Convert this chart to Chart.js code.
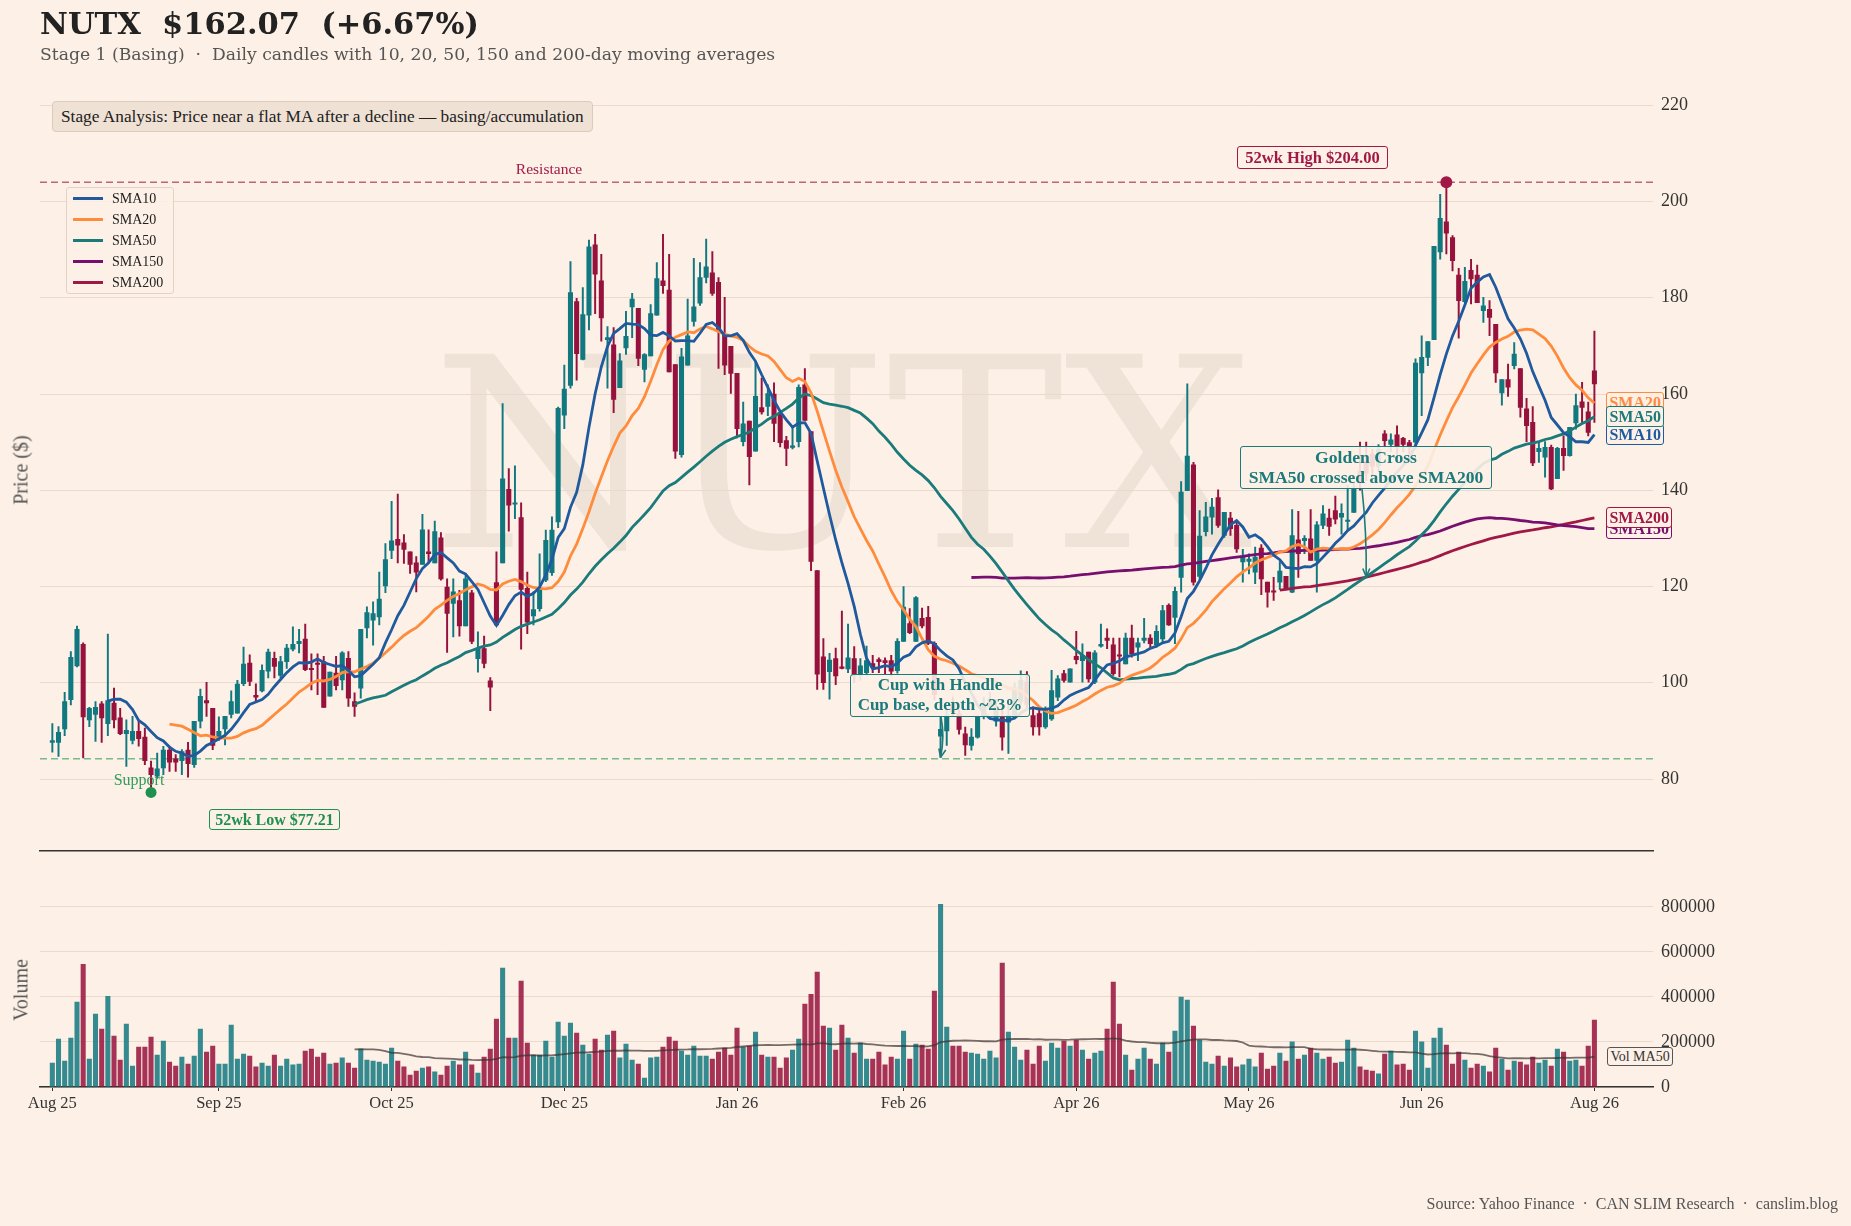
<!DOCTYPE html>
<html>
<head>
<meta charset="utf-8">
<script src="https://cdn.jsdelivr.net/npm/chart.js@4.4.1/dist/chart.umd.min.js"></script>
<style>
  body{margin:0;background:#fdf0e6;font-family:"Liberation Serif",serif;color:#222;}
  #wrap{position:relative;width:1851px;height:1226px;overflow:hidden;}
  canvas{position:absolute;left:0;z-index:1;}
  .ov{position:absolute;z-index:2;white-space:pre;}
  #title{left:40px;top:5px;font-family:"DejaVu Serif",serif;font-weight:bold;font-size:30.5px;color:#222;}
  #sub{left:40px;top:44px;font-family:"DejaVu Serif",serif;font-size:17.2px;color:#555;}
  #stage{left:52px;top:101px;height:29px;line-height:29px;padding:0 8px;font-size:17.3px;background:#efe1d4;border:1px solid #dccbbd;border-radius:4px;}
  #wm{position:absolute;z-index:0;left:842px;top:455px;transform:translate(-50%,-50%);font-family:"DejaVu Serif",serif;font-size:265px;color:#efe2d6;}
  #legend{left:66px;top:187px;width:106px;padding:0;background:rgba(253,240,230,0.85);border:1px solid #e2d2c4;border-radius:3px;font-size:14px;}
  #legend .li{height:21px;line-height:21px;display:flex;align-items:center;}
  #legend .sw{display:inline-block;width:30px;height:3px;margin:0 9px 0 6px;}
  .tag{font-weight:bold;border-radius:3px;background:rgba(253,240,230,0.9);text-align:center;}
  .endlab{position:absolute;z-index:2;font-weight:bold;font-size:16px;padding:0 2px;line-height:19px;border:1.5px solid;border-radius:3px;background:#fdf0e6;}
  .ytitle{position:absolute;z-index:2;font-size:20px;color:#555;transform:translate(-50%,-50%) rotate(-90deg);white-space:pre;}
</style>
</head>
<body>
<div id="wrap">
  <div id="wm">NUTX</div>
  <canvas id="pc" width="1851" height="870" style="top:0"></canvas>
  <canvas id="vc" width="1851" height="356" style="top:870px"></canvas>

  <div class="ov" id="title">NUTX  $162.07  (+6.67%)</div>
  <div class="ov" id="sub">Stage 1 (Basing)  ·  Daily candles with 10, 20, 50, 150 and 200-day moving averages</div>
  <div class="ov" id="stage">Stage Analysis: Price near a flat MA after a decline — basing/accumulation</div>
  <div class="ov" id="legend"></div>

  <div class="ov" style="left:549px;top:169px;transform:translate(-50%,-50%);font-size:15.5px;color:#a01946;">Resistance</div>
  <div class="ov" style="left:139px;top:780px;transform:translate(-50%,-50%);font-size:16px;color:#2e9e5b;">Support</div>

  <div class="ov tag" style="left:1237px;top:146px;width:149px;height:21px;line-height:21px;font-size:16.5px;color:#a01946;border:1.5px solid #a01946;">52wk High $204.00</div>
  <div class="ov tag" style="left:209px;top:809px;width:129px;height:19px;line-height:19px;font-size:16px;color:#1e9150;border:1.5px solid #1e9150;">52wk Low $77.21</div>
  <div class="ov tag" style="left:850px;top:674px;width:178px;height:41px;line-height:20px;font-size:17px;color:#1b7a7a;border:1.5px solid #1b7a7a;">Cup with Handle
Cup base, depth ~23%</div>
  <div class="ov tag" style="left:1240px;top:446px;width:250px;height:41px;line-height:20px;font-size:17.6px;color:#1b7a7a;border:1.5px solid #1b7a7a;">Golden Cross
SMA50 crossed above SMA200</div>

  <div class="ytitle" style="left:21px;top:470px;">Price ($)</div>
  <div class="ytitle" style="left:21px;top:990px;">Volume</div>
  <div class="ov" style="right:13px;top:1195px;font-size:16px;color:#555;">Source: Yahoo Finance  ·  CAN SLIM Research  ·  canslim.blog</div>
</div>

<script>
// daily candles
const opens = [87.6,87.6,90.4,96.5,103.5,108.0,92.3,93.4,95.6,91.5,95.8,92.7,89.4,88.0,89.9,88.7,82.3,80.6,82.3,86.0,
  84.2,83.8,86.0,83.0,92.0,96.3,94.7,88.5,90.4,93.4,93.7,99.8,104.1,97.4,98.3,102.4,105.1,101.5,104.4,107.0,
  108.1,109.1,102.9,103.9,104.4,97.2,102.0,100.6,105.1,96.1,98.9,111.4,113.0,113.7,120.1,127.5,129.8,129.1,127.2,124.9,
  124.6,127.2,124.9,130.1,119.9,116.5,117.1,111.8,118.7,105.0,107.1,100.4,120.8,124.9,140.2,137.1,134.3,119.6,113.9,115.4,
  121.3,122.9,133.4,155.6,161.8,179.2,167.2,176.4,191.0,183.5,171.3,170.2,161.3,169.6,178.1,177.8,165.1,167.9,176.4,183.5,
  181.6,166.1,147.4,166.0,175.1,178.9,184.2,185.2,183.2,172.3,169.9,164.3,150.1,154.4,148.1,157.2,157.4,160.0,155.8,150.3,
  148.9,150.1,161.9,152.2,123.3,105.4,102.3,105.0,103.1,102.9,105.0,101.5,102.1,104.0,104.8,104.6,104.6,102.5,108.6,112.3,
  108.6,113.4,113.6,108.2,88.9,90.0,95.5,93.6,89.4,87.0,88.7,93.0,95.0,92.0,92.9,91.8,93.2,96.0,100.2,93.2,
  93.6,90.8,92.5,97.0,101.9,100.1,105.5,104.6,106.4,100.1,107.6,109.3,107.9,105.8,103.9,109.3,107.4,108.8,109.3,107.8,
  109.1,116.1,113.6,121.9,139.9,145.3,122.1,131.4,134.4,138.5,130.6,134.2,132.7,125.1,125.2,123.0,128.0,120.9,119.0,120.9,
  122.1,118.8,129.7,129.5,129.9,125.4,132.7,134.2,135.8,134.4,133.5,135.4,144.0,146.0,147.5,145.0,151.7,149.5,151.5,150.8,
  149.9,150.0,164.4,167.6,171.3,189.5,195.8,192.5,184.7,179.2,185.7,184.7,177.3,177.6,174.5,160.2,163.0,165.9,165.3,156.9,
  154.1,148.0,146.9,148.9,142.4,148.7,147.2,154.0,158.4,156.3,164.8];
const highs = [91.5,90.9,98.0,106.5,111.8,108.3,94.9,96.1,96.1,110.1,98.9,94.7,92.3,93.0,92.1,90.6,83.7,85.4,86.8,86.8,
  85.1,86.1,87.6,92.0,98.7,100.1,94.7,92.9,93.0,98.3,100.5,107.4,105.8,99.8,103.7,107.0,106.4,105.5,108.0,111.6,
  111.1,112.2,106.0,106.0,105.5,102.2,105.5,106.5,106.5,97.9,111.1,115.8,116.8,123.0,128.9,137.7,139.2,130.8,127.2,126.2,
  135.0,131.8,133.6,131.2,121.6,121.6,119.2,122.3,119.2,110.6,109.7,101.1,127.2,158.0,144.5,145.1,137.4,123.0,118.9,126.8,
  131.7,134.5,157.3,166.0,187.5,179.9,182.1,192.0,193.2,189.0,174.0,173.8,168.4,177.2,180.9,177.8,168.4,178.6,187.3,193.2,
  189.0,166.1,169.5,179.7,188.2,187.3,192.2,189.6,184.2,180.1,169.9,164.3,158.3,154.4,166.7,163.3,161.9,162.3,155.8,151.2,
  153.3,161.9,165.3,152.2,123.3,109.2,106.1,107.2,114.9,112.2,107.5,105.0,107.6,105.7,105.2,105.2,105.7,109.2,120.0,115.4,
  117.9,115.5,115.9,108.5,92.8,94.3,97.0,94.3,90.8,90.5,93.2,97.0,98.0,96.5,95.3,96.0,100.0,102.5,102.3,95.0,
  94.6,95.0,102.6,101.5,102.6,102.9,110.7,108.1,106.4,106.7,112.2,111.2,109.3,109.3,110.3,112.0,109.3,113.4,110.0,111.9,
  116.1,116.4,119.9,141.8,162.1,145.8,135.8,137.5,138.3,140.1,135.4,135.4,133.7,127.7,126.8,128.2,128.7,120.9,121.9,125.2,
  122.1,136.0,135.6,130.6,136.0,133.5,136.8,136.1,138.8,137.2,141.0,141.7,150.0,150.0,148.5,149.5,152.4,151.7,153.4,151.0,
  150.4,167.3,172.1,170.9,190.7,201.5,204.0,192.9,186.1,186.3,188.0,186.8,180.1,179.4,174.5,163.0,166.2,170.7,165.3,159.1,
  157.4,150.1,150.1,149.4,148.9,151.3,153.1,160.0,162.4,158.3,173.1];
const lows = [85.6,84.7,89.0,95.4,103.3,84.4,90.9,87.8,87.6,89.0,90.6,89.2,82.6,87.3,86.8,83.0,77.21,80.2,80.9,81.6,
  81.6,80.9,80.4,82.4,90.6,93.0,86.1,88.0,87.1,92.7,93.7,99.4,99.4,96.0,98.1,101.0,101.0,101.0,103.0,106.6,
  106.2,102.5,98.5,97.5,94.9,97.2,98.5,98.5,95.1,93.0,96.8,109.3,107.8,112.0,118.7,125.8,124.9,124.8,122.7,118.9,
  124.6,125.1,124.9,121.3,106.3,109.5,109.7,111.8,108.1,102.2,103.1,94.2,112.0,124.9,131.5,134.1,107.0,110.2,112.0,114.9,
  121.0,122.3,132.2,152.8,161.2,162.9,167.1,173.3,176.7,171.0,161.2,156.1,161.3,168.2,171.7,165.9,162.5,167.9,176.4,180.9,
  164.6,146.6,146.9,166.0,174.1,178.4,183.1,180.5,165.3,164.0,160.1,150.9,149.2,141.1,148.1,155.8,155.5,150.1,149.0,145.1,
  148.6,149.0,154.5,123.3,98.6,98.6,96.6,99.6,102.9,102.1,100.0,100.5,101.5,102.1,102.1,101.8,101.4,102.0,108.6,110.2,
  108.6,111.4,107.9,96.5,84.5,87.0,93.0,89.3,84.9,86.0,88.5,92.5,94.5,91.0,86.0,85.3,92.5,95.5,94.5,89.1,
  89.1,90.5,92.2,96.3,100.1,100.1,103.9,100.1,100.1,99.8,107.4,107.1,101.5,101.2,103.9,105.3,104.6,108.3,107.4,107.4,
  108.4,111.9,108.1,118.8,139.9,120.3,121.6,130.5,130.9,132.3,130.2,130.6,127.1,120.9,122.6,120.6,118.3,115.7,117.1,119.4,
  119.4,118.7,121.9,126.8,125.4,118.8,132.0,130.6,133.0,130.9,131.6,135.4,140.0,142.0,143.0,144.0,149.0,148.0,147.5,148.0,
  147.5,148.6,155.5,165.9,171.3,188.0,189.1,185.6,171.6,179.0,178.7,179.0,174.9,172.1,162.4,157.7,159.5,165.2,155.2,150.1,
  145.1,145.8,142.7,140.1,142.4,144.1,147.1,152.7,154.1,151.3,154.1];
const closes = [88.0,89.7,96.1,105.3,111.1,92.9,94.7,94.9,92.7,96.3,92.3,89.4,90.1,89.9,88.4,83.8,80.9,82.1,86.0,83.5,
  83.5,85.7,83.2,92.0,97.2,95.8,87.0,89.9,93.0,96.1,99.7,103.9,100.3,97.0,102.6,106.4,103.4,104.4,107.2,108.0,
  108.6,102.7,102.7,103.8,94.9,102.2,99.4,106.2,96.8,95.1,111.1,114.6,114.4,117.4,125.6,129.5,128.6,127.7,124.6,123.0,
  131.8,126.8,131.4,121.6,114.4,118.9,111.8,121.6,108.6,107.1,104.0,99.1,112.0,142.4,136.9,137.3,119.4,112.6,115.2,119.6,
  129.6,131.7,157.0,161.0,181.1,168.4,176.5,190.6,184.9,175.8,171.7,158.9,166.9,172.0,179.7,167.4,168.2,176.7,184.0,182.5,
  164.6,148.1,167.7,172.1,178.1,184.2,186.4,180.9,173.0,166.0,164.3,152.8,153.8,147.0,159.5,156.3,160.1,153.9,149.9,148.7,
  149.1,161.4,154.5,125.2,101.8,100.0,104.7,101.4,103.0,105.2,101.5,103.5,104.6,103.2,104.4,104.2,102.4,108.6,115.7,110.4,
  117.7,111.8,108.2,97.5,90.3,93.2,94.0,90.3,87.1,88.7,92.9,95.5,96.5,95.0,88.7,93.2,99.0,100.5,95.5,90.8,
  90.8,94.6,98.4,100.8,100.5,102.9,104.8,105.7,100.8,106.2,108.0,108.8,101.9,105.5,109.3,106.0,108.3,109.3,108.1,110.7,
  115.0,112.0,119.0,139.6,147.1,120.9,130.5,134.5,136.5,132.7,135.4,132.0,127.8,126.3,125.7,126.1,121.6,118.8,118.8,123.2,
  119.5,130.6,126.8,130.0,125.4,132.8,135.1,132.5,134.0,135.2,133.7,140.3,141.5,143.5,145.0,148.5,150.3,150.5,149.0,149.5,
  149.0,166.4,167.6,170.9,190.7,196.5,193.4,187.7,179.4,183.4,183.9,179.0,178.3,175.9,164.4,163.0,161.4,168.3,157.2,153.4,
  145.7,148.7,148.9,140.3,148.7,147.2,153.1,157.6,157.2,152.0,162.07];
const volumes = [106000,213000,115000,217000,377000,545000,124000,324000,257000,403000,226000,120000,279000,93000,177000,177000,222000,142000,204000,111000,
  93000,133000,102000,137000,257000,155000,182000,102000,102000,275000,124000,146000,137000,89000,106000,93000,142000,93000,124000,98000,
  102000,160000,168000,133000,151000,102000,106000,129000,106000,84000,168000,120000,115000,111000,102000,173000,115000,89000,53000,71000,
  84000,89000,67000,53000,93000,115000,98000,155000,98000,62000,133000,168000,302000,528000,217000,217000,470000,195000,142000,142000,
  204000,133000,288000,226000,284000,239000,186000,146000,213000,164000,231000,248000,129000,191000,120000,102000,40000,129000,133000,177000,
  222000,204000,160000,142000,182000,137000,137000,124000,155000,173000,142000,262000,177000,182000,244000,142000,133000,133000,84000,129000,
  164000,213000,368000,412000,510000,270000,262000,164000,275000,217000,151000,195000,124000,124000,155000,98000,133000,124000,248000,124000,
  191000,186000,168000,426000,811000,266000,182000,182000,155000,151000,146000,124000,160000,129000,550000,244000,177000,120000,164000,102000,
  182000,115000,195000,173000,204000,182000,208000,164000,124000,151000,160000,257000,466000,279000,142000,75000,124000,173000,124000,102000,
  195000,155000,248000,399000,386000,270000,208000,111000,102000,137000,93000,129000,89000,98000,124000,89000,151000,80000,93000,151000,
  115000,200000,124000,142000,173000,151000,124000,133000,106000,111000,208000,173000,89000,75000,71000,58000,146000,160000,98000,102000,
  75000,248000,200000,84000,217000,262000,186000,102000,155000,120000,84000,102000,93000,67000,173000,124000,75000,115000,111000,98000,
  133000,106000,120000,93000,168000,155000,115000,120000,93000,182000,297000];

const tickIdx = [0, 27, 55, 83, 111, 138, 166, 194, 222, 250];
const tickLabels = ['Aug 25','Sep 25','Oct 25','Dec 25','Jan 26','Feb 26','Apr 26','May 26','Jun 26','Aug 26'];
const priceTicks = [80, 100, 120, 140, 160, 180, 200, 220];
const volTicks = [0, 200000, 400000, 600000, 800000];
const smaPeriods = [10, 20, 50, 150, 200];
const smaNames = ['SMA10', 'SMA20', 'SMA50', 'SMA150', 'SMA200'];
const smaColors = ['#1f5a9e', '#ff8c3c', '#1b7a7a', '#780f6e', '#a01946'];
const resistance = 204.0, support = 84.2;
const high52 = {x: 226, y: 204.00}, low52 = {x: 16, y: 77.21};
const cupIdx = 144;
const xMin = -2, xMax = 259.5;

const UP = '#127880', DN = '#96123c';
const up = closes.map((c, i) => c >= opens[i]);
const idx = closes.map((_, i) => i);

function sma(a, n) {
  const out = []; let s = 0;
  for (let i = 0; i < a.length; i++) {
    s += a[i]; if (i >= n) s -= a[i - n];
    if (i >= n - 1) out.push({x: i, y: s / n});
  }
  return out;
}
const smas = smaPeriods.map(n => sma(closes, n));
const volMA = sma(volumes, 50);

// golden cross: first day SMA50 > SMA200
const s50 = {};
smas[2].forEach(p => s50[p.x] = p.y);
let gcIdx = smas[4][0].x;
for (const p of smas[4]) { if (s50[p.x] > p.y) { gcIdx = p.x; break; } }

const font = "'Liberation Serif', serif";

function arrow(ctx, x1, y1, x2, y2, col) {
  const cx = x1 + (x2 - x1) * 0.2 + 4, cy = (y1 + y2) / 2;
  ctx.save();
  ctx.strokeStyle = col; ctx.lineWidth = 1.6;
  ctx.beginPath(); ctx.moveTo(x1, y1);
  ctx.quadraticCurveTo(cx, cy, x2, y2); ctx.stroke();
  const a = Math.atan2(y2 - cy, x2 - cx);
  ctx.beginPath(); ctx.moveTo(x2, y2);
  ctx.lineTo(x2 - 9 * Math.cos(a - 0.4), y2 - 9 * Math.sin(a - 0.4));
  ctx.moveTo(x2, y2);
  ctx.lineTo(x2 - 9 * Math.cos(a + 0.4), y2 - 9 * Math.sin(a + 0.4));
  ctx.stroke();
  ctx.restore();
}

const arrowPlugin = {
  id: 'arrows',
  afterDatasetsDraw(ch) {
    const {ctx, scales: {x, y}} = ch;
    arrow(ctx, 941, 717, x.getPixelForValue(cupIdx), y.getPixelForValue(lows[cupIdx]), '#1b7a7a');
    arrow(ctx, 1362, 489, x.getPixelForValue(gcIdx), y.getPixelForValue(s50[gcIdx]), '#1b7a7a');
  }
};

const lineDs = (data, color, width, order, extra) => Object.assign({
  type: 'line', data, borderColor: color, borderWidth: width, pointRadius: 0, fill: false, order, tension: 0
}, extra || {});

const priceDatasets = [
  {type: 'bar', data: idx.map(i => ({x: i, y: [lows[i], highs[i]]})),
   backgroundColor: up.map(u => u ? UP : DN), barThickness: 1.3, grouped: false, order: 11},
  {type: 'bar', data: idx.map(i => ({x: i, y: [opens[i], closes[i]]})),
   backgroundColor: up.map(u => u ? UP : DN), barThickness: 4.4, minBarLength: 1.5, grouped: false, order: 10},
  lineDs([{x: xMin, y: resistance}, {x: xMax, y: resistance}], 'rgba(160,25,70,0.65)', 1.4, 20, {borderDash: [7, 4]}),
  lineDs([{x: xMin, y: support}, {x: xMax, y: support}], 'rgba(46,158,91,0.65)', 1.4, 20, {borderDash: [7, 4]}),
];
[4, 3, 2, 1, 0].forEach((k, j) => priceDatasets.push(lineDs(smas[k], smaColors[k], 2.8, 5 - j + 1)));
priceDatasets.push(lineDs([high52], '#a01946', 0, 0, {showLine: false, pointRadius: 6, pointBackgroundColor: '#a01946', pointBorderWidth: 0}));
priceDatasets.push(lineDs([low52], '#1e9150', 0, 0, {showLine: false, pointRadius: 5.5, pointBackgroundColor: '#1e9150', pointBorderWidth: 0}));

const pc = new Chart(document.getElementById('pc'), {
  type: 'bar',
  data: {datasets: priceDatasets},
  options: {
    responsive: false, animation: false, events: [],
    layout: {padding: {left: 40, right: 118, top: 86, bottom: 17}},
    plugins: {legend: {display: false}, tooltip: {enabled: false}},
    scales: {
      x: {type: 'linear', min: xMin, max: xMax, offset: false,
          grid: {display: false}, ticks: {display: false},
          border: {display: true, color: '#333', width: 1.5},
          afterFit: s => { s.height = 0; }},
      y: {position: 'right', min: 65, max: 224,
          afterBuildTicks: ax => { ax.ticks = priceTicks.map(v => ({value: v})); },
          ticks: {color: '#333', font: {family: font, size: 18}, padding: 8},
          grid: {color: '#e9dacd', drawTicks: false},
          border: {display: false},
          afterFit: s => { s.width = 80; }}
    }
  },
  plugins: [arrowPlugin]
});

const vc = new Chart(document.getElementById('vc'), {
  type: 'bar',
  data: {datasets: [
    {type: 'bar', data: idx.map(i => ({x: i, y: volumes[i]})),
     backgroundColor: up.map(u => u ? 'rgba(18,120,128,0.85)' : 'rgba(150,18,60,0.85)'),
     barThickness: 4.4, grouped: false, order: 2},
    lineDs(volMA, 'rgba(60,50,50,0.7)', 1.8, 1)
  ]},
  options: {
    responsive: false, animation: false, events: [],
    layout: {padding: {left: 40, right: 118, top: 14, bottom: 0}},
    plugins: {legend: {display: false}, tooltip: {enabled: false}},
    scales: {
      x: {type: 'linear', min: xMin, max: xMax, offset: false,
          afterBuildTicks: ax => { ax.ticks = tickIdx.map(v => ({value: v})); },
          ticks: {autoSkip: false, maxRotation: 0, color: '#333', font: {family: font, size: 16.5}, padding: 3,
                  callback: v => { const k = tickIdx.indexOf(v); return k >= 0 ? tickLabels[k] : ''; }},
          grid: {display: true, offset: false, drawOnChartArea: false, drawTicks: true, tickLength: 4, color: '#333'},
          border: {display: true, color: '#333', width: 1.5},
          afterFit: s => { s.height = 139; }},
      y: {position: 'right', min: 0, max: 880000,
          afterBuildTicks: ax => { ax.ticks = volTicks.map(v => ({value: v})); },
          ticks: {color: '#333', font: {family: font, size: 18}, padding: 8, callback: v => String(v)},
          grid: {color: '#e9dacd', drawTicks: false},
          border: {display: false},
          afterFit: s => { s.width = 80; }}
    }
  }
});

// legend
const leg = document.getElementById('legend');
smaNames.forEach((n, k) => {
  const d = document.createElement('div'); d.className = 'li';
  d.innerHTML = '<span class="sw" style="background:' + smaColors[k] + '"></span>' + n;
  leg.appendChild(d);
});

// end-of-line labels
const wrap = document.getElementById('wrap');
const lastX = pc.scales.x.getPixelForValue(closes.length - 1) + 12;
[1, 0, 2, 3, 4].forEach(k => {
  const v = smas[k][smas[k].length - 1].y;
  const d = document.createElement('div'); d.className = 'endlab';
  d.textContent = smaNames[k];
  d.style.color = smaColors[k]; d.style.borderColor = smaColors[k];
  d.style.left = lastX + 'px';
  d.style.top = (pc.scales.y.getPixelForValue(v) - 11) + 'px';
  wrap.appendChild(d);
});
const vm = volMA[volMA.length - 1].y;
const vl = document.createElement('div'); vl.className = 'endlab';
vl.textContent = 'Vol MA50';
vl.style.cssText += 'color:#333;border-color:#555;font-weight:normal;font-size:14px;line-height:17px;';
vl.style.left = (lastX + 1) + 'px';
vl.style.top = (870 + vc.scales.y.getPixelForValue(vm) - 10) + 'px';
wrap.appendChild(vl);
</script>
</body>
</html>
